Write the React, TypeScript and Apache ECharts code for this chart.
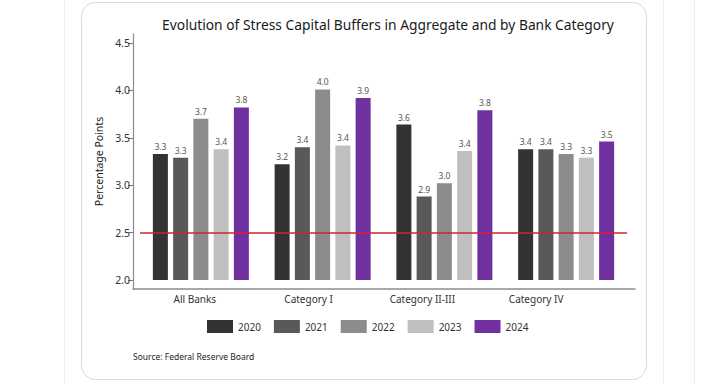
import React, { useEffect, useRef } from "react";
import * as echarts from "echarts";

const categories = ["All Banks", "Category I", "Category II-III", "Category IV"];
const years = ["2020", "2021", "2022", "2023", "2024"];
const values2020 = [3.33, 3.22, 3.64, 3.38];
const values2021 = [3.29, 3.4, 2.88, 3.38];
const values2022 = [3.7, 4.01, 3.02, 3.33];
const values2023 = [3.38, 3.42, 3.36, 3.29];
const values2024 = [3.82, 3.92, 3.79, 3.46];
const seriesValues = [values2020, values2021, values2022, values2023, values2024];
const colors = ["#333333", "#595959", "#8c8c8c", "#bfbfbf", "#7030a0"];
const thresholdValue = 2.5;
const yTicks = { min: 2, max: 4.5, interval: 0.5 };

const FONT = "'Noto Sans', 'Open Sans', sans-serif";

export default function App() {
  const ref = useRef<HTMLDivElement>(null);
  useEffect(() => {
    if (!ref.current) return;
    const chart = echarts.init(ref.current, null, { renderer: "svg" });
    const hiddenAxis = {
      axisLine: { show: false },
      axisTick: { show: false },
      axisLabel: { show: false },
      splitLine: { show: false },
    };
    chart.setOption({
      animation: false,
      backgroundColor: "#ffffff",
      textStyle: { fontFamily: FONT },
      graphic: [
        { type: "line", shape: { x1: 64.5, y1: 0, x2: 64.5, y2: 383 }, style: { stroke: "#ececec", lineWidth: 1 }, z: -10 },
        { type: "line", shape: { x1: 663.5, y1: 0, x2: 663.5, y2: 383 }, style: { stroke: "#ececec", lineWidth: 1 }, z: -10 },
        { type: "line", shape: { x1: 694.5, y1: 0, x2: 694.5, y2: 383 }, style: { stroke: "#ececec", lineWidth: 1 }, z: -10 },
        {
          type: "rect",
          shape: { x: 81.5, y: 2.5, width: 565, height: 377, r: 14 },
          style: { fill: "#ffffff", stroke: "#d9dcdc", lineWidth: 1 },
          z: -5,
        },
        {
          type: "text",
          left: 133,
          top: 352,
          style: { text: "Source: Federal Reserve Board", fontSize: 8.5, fill: "#222", fontFamily: FONT },
        },
      ],
      title: {
        text: "Evolution of Stress Capital Buffers in Aggregate and by Bank Category",
        left: 383,
        textAlign: "center",
        top: 12,
        textStyle: { fontSize: 13.8, fontWeight: "normal", color: "#1a1a1a", fontFamily: FONT },
      },
      legend: {
        data: years,
        left: 207,
        top: 320,
        padding: 0,
        itemWidth: 26,
        itemHeight: 13,
        itemGap: 13,
        icon: "rect",
        textStyle: { fontSize: 10, color: "#333", fontFamily: FONT },
      },
      grid: [
        { left: 140, right: 79, top: 43, bottom: 103 },
        { left: 138, right: 113, top: 43, bottom: 103 },
        { left: 133, right: 71, top: 34, bottom: 94 },
      ],
      xAxis: [
        { type: "category", gridIndex: 0, data: categories, ...hiddenAxis },
        {
          type: "category",
          gridIndex: 1,
          data: categories,
          offset: 9,
          axisLine: { show: false },
          axisTick: { show: false },
          splitLine: { show: false },
          axisLabel: { fontSize: 10, color: "#333", margin: 5, fontFamily: FONT },
        },
        {
          type: "value",
          gridIndex: 2,
          min: 0,
          max: 1,
          axisLine: { show: true, lineStyle: { color: "#8c8c8c", width: 1.5 } },
          axisTick: { show: false },
          axisLabel: { show: false },
          splitLine: { show: false },
        },
      ],
      yAxis: [
        {
          type: "value",
          gridIndex: 0,
          min: yTicks.min,
          max: yTicks.max,
          interval: yTicks.interval,
          offset: 7,
          name: "Percentage Points",
          nameLocation: "middle",
          nameGap: 29,
          nameTextStyle: { fontSize: 10.5, color: "#222", fontFamily: FONT },
          axisLine: { show: false },
          axisTick: { show: true, length: 5, lineStyle: { color: "#777" } },
          axisLabel: {
            fontSize: 10.5,
            color: "#333",
            margin: 3,
            fontFamily: FONT,
            formatter: (v: number) => v.toFixed(1),
          },
          splitLine: { show: false },
        },
        { type: "value", gridIndex: 1, min: 0, max: 1, ...hiddenAxis },
        {
          type: "value",
          gridIndex: 2,
          min: 0,
          max: 1,
          axisLine: { show: true, lineStyle: { color: "#8c8c8c", width: 1.2 } },
          axisTick: { show: false },
          axisLabel: { show: false },
          splitLine: { show: false },
        },
      ],
      series: years.map((y, i) => ({
        name: y,
        type: "bar",
        xAxisIndex: 0,
        yAxisIndex: 0,
        data: seriesValues[i],
        barWidth: 15,
        barGap: "35%",
        itemStyle: { color: colors[i] },
        label: {
          show: true,
          position: "top",
          distance: 3,
          fontSize: 8.5,
          color: "#555",
          fontFamily: FONT,
          formatter: (p: any) => Number(p.value).toFixed(1),
        },
        ...(i === 0
          ? {
              markLine: {
                silent: true,
                symbol: "none",
                label: { show: false },
                lineStyle: { color: "#c8282d", type: "solid", width: 1.5 },
                data: [{ yAxis: thresholdValue }],
              },
            }
          : {}),
      })),
    });
    return () => chart.dispose();
  }, []);
  return (
    <div style={{ position: "fixed", left: 0, top: 0, width: 706, height: 383 }}>
      <div ref={ref} style={{ width: 706, height: 383 }} />
    </div>
  );
}
